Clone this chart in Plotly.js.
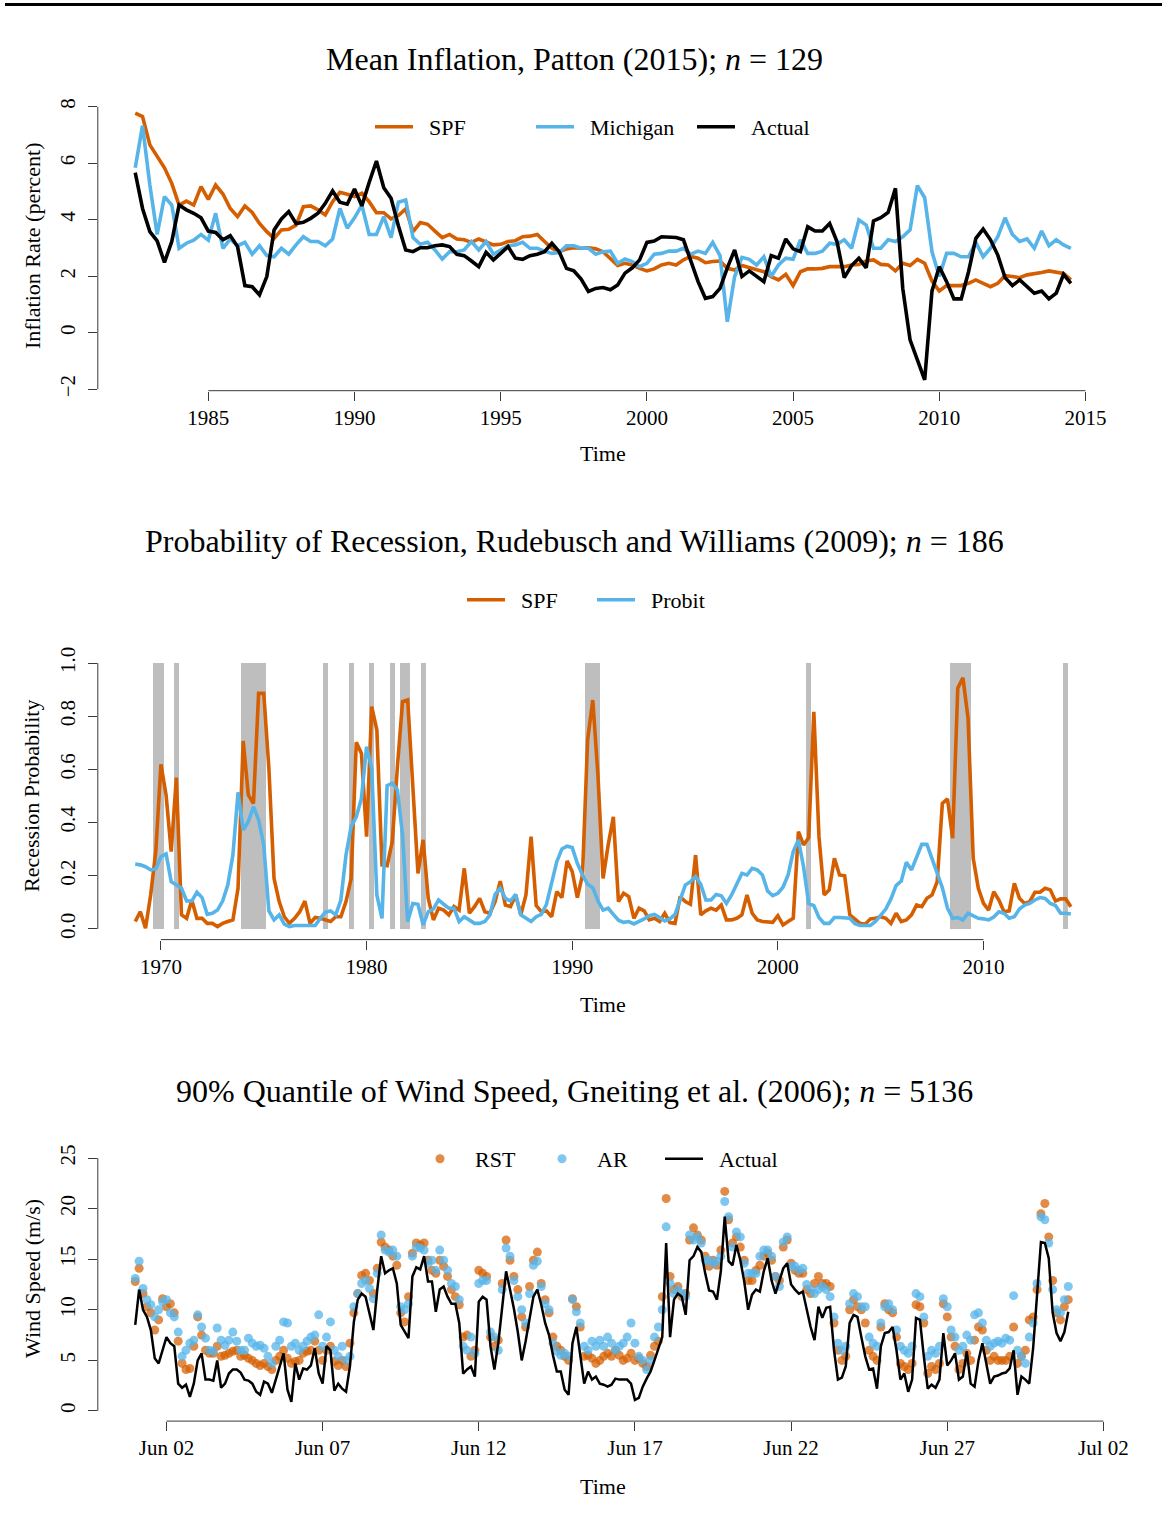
<!DOCTYPE html>
<html>
<head>
<meta charset="utf-8">
<script src="https://cdn.plot.ly/plotly-3.0.1.min.js"></script>
<style>
  html, body { margin: 0; padding: 0; background: #ffffff; }
  #chart { width: 1162px; height: 1531px; }
</style>
</head>
<body>
<div id="chart"></div>
<script>
// ---------------- Panel 1: Mean inflation (quarterly, 1982.5 - 2014.5) ----------------
const inflStart = 1982.5;
const inflSPF = [7.77,7.65,6.65,6.23,5.84,5.29,4.52,4.66,4.52,5.17,4.72,5.23,4.91,4.40,4.11,4.49,4.26,3.87,3.58,3.34,
  3.64,3.66,3.81,4.46,4.49,4.35,4.17,4.64,4.97,4.90,4.82,4.94,4.64,4.25,4.25,4.03,4.15,4.38,3.58,3.90,
  3.84,3.60,3.37,3.48,3.32,3.29,3.20,3.32,3.23,3.11,3.13,3.23,3.26,3.40,3.42,3.48,3.23,2.99,2.87,2.97,
  3.01,2.99,3.01,2.97,2.87,2.63,2.38,2.46,2.40,2.28,2.19,2.26,2.40,2.46,2.40,2.58,2.70,2.64,2.48,2.52,
  2.54,2.28,2.22,2.38,2.31,2.22,2.16,1.99,1.87,2.07,1.67,2.16,2.26,2.26,2.28,2.34,2.34,2.34,2.40,2.42,
  2.54,2.58,2.42,2.40,2.19,2.46,2.38,2.60,2.46,1.83,1.48,1.67,1.67,1.67,1.75,1.87,1.75,1.63,1.75,2.02,
  1.99,1.95,2.05,2.08,2.13,2.19,2.14,2.10,1.87];
const inflMichigan = [5.84,7.33,5.23,3.48,4.82,4.52,2.99,3.17,3.28,3.48,3.28,4.23,2.99,3.32,3.08,3.20,2.78,3.08,2.73,2.69,
  2.99,2.78,3.11,3.40,3.23,3.23,3.08,3.32,4.40,3.70,4.07,4.52,3.48,3.48,4.11,3.37,4.62,4.70,3.37,3.13,
  3.20,2.93,2.61,2.87,2.87,2.93,3.23,2.93,3.23,2.78,2.93,3.08,3.11,3.20,2.99,2.99,2.89,2.81,2.84,3.08,
  3.08,2.99,2.99,2.78,2.87,2.89,2.46,2.61,2.52,2.34,2.46,2.78,2.81,2.89,2.89,2.99,2.78,2.89,2.81,3.20,
  2.73,0.39,1.99,2.67,2.60,2.40,2.69,1.99,2.40,2.64,2.60,3.29,2.81,2.81,2.89,3.17,3.13,3.29,2.99,3.99,
  3.81,2.99,2.99,3.29,3.23,3.40,3.64,5.21,4.78,2.87,1.99,2.81,2.81,2.69,2.69,3.20,2.69,2.99,3.40,4.07,
  3.48,3.23,3.32,2.99,3.60,3.08,3.29,3.11,2.99];
const inflActual = [5.67,4.40,3.58,3.25,2.49,3.23,4.52,4.35,4.23,4.07,3.60,3.55,3.29,3.44,3.05,1.67,1.63,1.34,1.99,3.64,
  4.03,4.29,3.87,3.91,4.05,4.23,4.58,5.02,4.62,4.55,5.09,4.49,5.32,6.08,5.13,4.76,3.79,2.93,2.87,3.01,
  3.01,3.08,3.11,3.05,2.78,2.73,2.54,2.34,2.85,2.58,2.81,3.05,2.64,2.60,2.73,2.78,2.87,3.17,2.87,2.28,
  2.19,1.90,1.46,1.57,1.60,1.52,1.69,2.11,2.30,2.58,3.20,3.25,3.40,3.40,3.37,3.29,2.54,1.81,1.22,1.28,
  1.57,2.30,2.93,1.99,2.19,1.99,1.81,2.73,2.64,3.32,2.97,2.87,3.75,3.60,3.60,3.87,3.23,1.95,2.38,2.64,
  2.30,3.96,4.07,4.26,5.11,1.57,-0.25,-0.96,-1.67,1.48,2.34,1.81,1.20,1.20,2.16,3.34,3.67,3.29,2.75,1.95,
  1.67,1.87,1.63,1.40,1.48,1.20,1.40,2.07,1.75];
const inflXTicks = [1985, 1990, 1995, 2000, 2005, 2010, 2015];
const inflYTicks = [-2, 0, 2, 4, 6, 8];

// ---------------- Panel 2: Recession probability (quarterly, 1968.75 - 2014.25) ----------------
const recStart = 1968.75;
const recSPF = [0.028,0.065,0.003,0.128,0.291,0.619,0.504,0.291,0.569,0.053,0.040,0.109,0.040,0.040,0.021,0.021,0.009,0.021,0.028,0.034,
  0.153,0.707,0.504,0.472,0.886,0.886,0.604,0.190,0.103,0.046,0.021,0.040,0.065,0.105,0.021,0.043,0.040,0.034,0.028,0.046,
  0.046,0.103,0.190,0.702,0.660,0.347,0.836,0.748,0.241,0.238,0.328,0.610,0.855,0.861,0.554,0.209,0.335,0.115,0.034,0.078,
  0.071,0.053,0.084,0.071,0.228,0.059,0.084,0.115,0.065,0.059,0.103,0.180,0.090,0.084,0.128,0.053,0.128,0.347,0.088,0.065,
  0.068,0.046,0.140,0.118,0.256,0.216,0.118,0.203,0.711,0.861,0.580,0.190,0.316,0.422,0.103,0.134,0.122,0.040,0.078,0.068,
  0.034,0.040,0.028,0.059,0.024,0.021,0.122,0.103,0.093,0.278,0.053,0.068,0.078,0.071,0.090,0.034,0.034,0.040,0.053,0.128,
  0.059,0.034,0.028,0.025,0.025,0.050,0.015,0.028,0.040,0.366,0.316,0.343,0.817,0.347,0.128,0.147,0.266,0.203,0.200,0.053,
  0.038,0.021,0.018,0.038,0.040,0.046,0.040,0.021,0.059,0.028,0.034,0.053,0.090,0.084,0.115,0.128,0.178,0.472,0.489,0.341,
  0.905,0.945,0.792,0.266,0.153,0.096,0.071,0.140,0.109,0.065,0.068,0.172,0.115,0.096,0.103,0.138,0.138,0.153,0.147,0.105,
  0.113,0.113,0.084];
const recProbit = [0.244,0.241,0.234,0.222,0.226,0.272,0.282,0.178,0.165,0.153,0.105,0.105,0.138,0.118,0.055,0.059,0.071,0.105,0.165,0.278,
  0.514,0.372,0.404,0.460,0.410,0.316,0.068,0.034,0.053,0.018,0.009,0.013,0.013,0.013,0.013,0.013,0.040,0.063,0.068,0.053,
  0.109,0.278,0.385,0.422,0.491,0.685,0.604,0.128,0.040,0.539,0.548,0.523,0.353,0.028,0.096,0.093,0.015,0.065,0.075,0.109,
  0.093,0.078,0.078,0.028,0.046,0.034,0.021,0.021,0.028,0.053,0.130,0.153,0.115,0.105,0.130,0.053,0.040,0.028,0.046,0.055,
  0.093,0.172,0.253,0.301,0.311,0.306,0.247,0.203,0.168,0.155,0.106,0.071,0.078,0.055,0.033,0.025,0.028,0.019,0.028,0.038,
  0.050,0.055,0.043,0.030,0.038,0.055,0.109,0.165,0.178,0.197,0.168,0.109,0.109,0.130,0.125,0.096,0.128,0.168,0.209,0.203,
  0.228,0.222,0.203,0.143,0.125,0.134,0.157,0.203,0.291,0.335,0.234,0.096,0.088,0.043,0.021,0.021,0.043,0.043,0.040,0.040,
  0.020,0.013,0.013,0.013,0.028,0.050,0.075,0.113,0.163,0.180,0.251,0.222,0.274,0.318,0.318,0.263,0.216,0.155,0.078,0.040,
  0.043,0.034,0.059,0.050,0.040,0.038,0.034,0.045,0.065,0.059,0.040,0.046,0.075,0.090,0.096,0.109,0.118,0.115,0.096,0.088,
  0.059,0.059,0.056];
const recessionQuarters = [1969.75,1970.0,1970.75,1974.0,1974.25,1974.5,1974.75,1975.0,1978.0,1979.25,1980.25,1981.25,
  1981.75,1982.0,1982.75,1990.75,1991.0,1991.25,2001.5,2008.5,2008.75,2009.0,2009.25,2014.0];
const recXTicks = [1970, 1980, 1990, 2000, 2010];
const recYTicks = [0, 0.2, 0.4, 0.6, 0.8, 1.0];

// ---------------- Panel 3: Wind speed (3-hourly readings, June 2003) ----------------
const windStart = '2003-06-01T00:00:00Z';
const windStepHours = 3;
const windActual = [8.5,12.0,10.0,9.3,8.0,5.2,4.7,6.0,7.3,6.7,6.4,2.7,2.3,2.6,1.4,2.7,5.0,5.7,3.1,3.1,
  3.0,5.0,2.3,2.7,3.7,4.1,4.1,3.8,3.1,3.0,2.7,1.9,1.6,2.9,2.7,1.8,3.1,4.2,5.7,2.1,
  0.9,4.7,3.1,4.2,4.1,4.5,6.2,3.7,2.7,6.4,6.0,2.0,2.7,2.2,1.9,4.4,8.8,11.0,11.6,11.3,
  9.5,8.0,12.0,15.3,13.6,13.9,14.1,12.6,8.5,7.8,7.2,13.3,14.2,14.0,15.3,12.8,12.8,9.8,12.0,12.3,
  11.3,10.6,10.6,8.7,3.7,4.1,4.4,3.4,10.8,11.3,11.0,6.4,4.1,6.7,10.0,13.8,12.0,10.1,7.8,5.0,
  6.9,9.2,11.3,12.0,10.5,8.7,7.5,5.5,3.9,3.9,2.1,1.6,6.7,8.3,5.7,2.7,3.9,3.1,3.4,2.7,
  2.6,2.4,2.6,3.2,3.1,3.1,3.1,2.7,1.1,1.3,2.4,3.2,3.9,5.0,6.2,7.3,16.6,7.3,11.0,11.6,
  11.3,9.5,14.9,15.3,16.2,15.7,13.6,11.9,11.8,11.0,13.8,19.2,14.8,14.4,16.4,14.9,12.8,10.0,11.5,12.0,
  11.8,13.8,15.1,12.9,11.6,12.9,14.1,14.6,12.5,12.0,11.6,11.8,10.0,8.3,7.0,10.3,9.2,10.2,10.3,6.0,
  3.1,3.3,4.4,8.7,9.5,9.3,7.3,5.4,4.1,4.2,2.2,6.4,7.7,7.8,8.3,6.0,3.1,3.7,1.9,3.1,
  9.2,9.0,5.4,2.2,2.6,2.3,3.1,7.7,4.5,5.0,5.7,3.1,3.4,5.9,2.7,2.4,5.0,6.7,4.7,2.7,
  3.4,3.5,3.7,3.8,4.2,6.0,1.6,3.4,3.1,2.7,6.2,11.6,16.7,16.6,15.1,9.7,7.7,6.9,7.8,9.8];
const windRST = [12.8,14.1,11.6,10.3,9.7,8.0,9.0,11.1,10.3,10.6,9.7,6.9,4.7,4.1,4.2,6.4,9.3,7.5,6.0,5.7,
  5.7,6.4,5.4,5.5,5.7,5.9,6.0,5.4,5.5,5.2,5.0,4.7,4.5,4.7,4.4,4.1,5.0,5.4,6.0,5.2,
  4.7,4.9,5.0,5.7,5.9,6.0,6.9,6.0,5.0,6.0,6.4,4.9,4.5,5.0,4.4,6.7,9.7,11.6,13.4,13.6,
  12.9,11.6,14.1,16.7,16.2,15.9,15.3,14.4,9.7,8.8,11.3,15.6,16.6,16.4,16.6,14.9,13.9,13.6,14.9,14.3,
  13.3,12.0,11.3,10.5,7.3,7.5,5.4,6.0,13.9,13.6,13.3,7.3,6.4,7.0,12.6,16.9,14.9,13.3,12.0,9.3,
  8.3,12.3,14.9,15.7,12.6,11.0,9.7,7.3,6.4,6.0,5.4,5.0,11.1,10.3,8.3,5.4,5.5,5.2,4.7,5.0,
  5.4,5.7,5.4,6.0,5.5,5.0,5.2,5.7,5.0,5.2,4.7,4.4,5.5,6.4,6.9,11.3,21.0,13.3,12.0,12.3,
  11.3,11.6,16.9,18.1,17.4,16.9,15.3,14.3,14.9,14.4,15.9,21.7,18.9,16.6,17.2,16.2,14.9,12.9,12.9,13.9,
  14.4,15.3,15.6,14.9,13.3,12.9,16.2,16.9,14.6,13.9,13.6,13.6,12.0,11.6,12.6,13.3,12.6,12.6,12.3,8.7,
  6.0,5.0,5.4,10.0,11.0,10.3,10.0,8.7,6.0,5.4,5.0,8.3,10.6,10.0,9.7,7.3,4.7,4.4,4.1,4.7,
  10.5,10.3,8.7,3.7,4.4,4.1,4.7,10.6,9.3,7.3,6.4,4.1,4.7,5.7,5.0,7.0,8.3,8.0,6.0,5.0,
  5.4,5.0,5.0,5.0,5.4,8.3,4.7,5.4,6.0,9.0,9.3,12.0,19.5,20.5,17.2,12.9,9.7,9.0,10.3,11.0];
const windAR = [13.1,14.8,12.1,11.0,10.5,9.3,10.0,10.8,11.0,9.7,9.3,7.8,5.4,6.0,6.7,7.0,9.5,8.3,7.2,6.0,
  5.9,8.2,7.0,6.5,7.0,7.8,6.9,6.0,6.0,7.2,6.7,6.4,6.5,6.2,5.4,4.7,6.4,7.0,8.8,8.7,
  6.4,6.7,6.0,6.4,6.9,7.3,7.5,9.5,6.4,7.3,8.8,6.0,5.4,6.4,5.0,5.4,10.3,11.6,12.6,12.9,
  12.1,11.1,13.6,17.4,15.9,15.7,15.9,15.3,10.3,10.0,10.6,15.3,16.2,16.1,15.9,14.6,14.9,13.9,15.9,14.9,
  13.9,12.6,12.3,11.0,6.4,6.0,7.3,5.7,12.6,12.9,12.9,7.8,7.3,6.0,12.0,16.1,15.3,12.9,11.3,10.0,
  8.7,11.6,14.4,14.8,12.3,10.6,10.0,6.7,5.9,5.5,5.7,5.4,11.0,9.8,8.7,6.4,6.0,6.9,6.4,7.0,
  6.4,7.3,6.7,6.0,6.4,6.7,7.3,8.7,6.7,5.4,5.0,4.1,5.0,7.3,8.3,10.0,18.2,12.6,11.6,12.0,
  11.6,11.3,17.4,16.9,17.2,16.6,14.9,14.9,14.6,14.8,15.3,20.7,19.2,16.2,17.7,17.2,14.6,13.6,13.6,13.6,
  15.3,15.9,15.9,15.3,13.3,12.3,16.7,17.2,14.3,14.3,13.9,14.1,12.5,12.0,11.6,12.0,12.3,12.0,11.3,9.3,
  6.7,6.0,6.4,10.6,11.6,11.3,10.3,10.3,7.3,6.7,6.4,8.7,10.3,10.6,10.0,8.0,6.4,6.0,5.7,6.4,
  11.6,11.3,9.3,5.4,6.0,5.7,6.4,11.1,10.3,8.0,7.3,6.0,6.4,7.5,7.0,9.5,9.7,8.7,7.0,6.4,
  6.7,6.9,6.7,7.2,7.0,11.4,6.0,5.4,4.7,7.3,8.7,12.6,19.2,18.9,16.6,12.0,10.0,9.7,11.0,12.3];
const windYTicks = [0, 5, 10, 15, 20, 25];
const windXTick0 = '2003-06-02';
const windXTickLast = '2003-07-02';

// ---------------- helpers ----------------
const W = 1162, H = 1531;
const px = x => x / W;
const py = y => 1 - y / H;
const quarterly = (start, n) => Array.from({length: n}, (_, i) => start + 0.25 * i);
function hourlyDates(startIso, n, step) {
  const t0 = Date.parse(startIso);
  const pad = v => String(v).padStart(2, '0');
  return Array.from({length: n}, (_, i) => {
    const d = new Date(t0 + i * step * 3600000);
    return d.getUTCFullYear() + '-' + pad(d.getUTCMonth() + 1) + '-' + pad(d.getUTCDate()) + ' ' +
      pad(d.getUTCHours()) + ':00:00';
  });
}
const SP = '\u2002'; // spacing between legend key and label

const ORANGE = '#D55E00', BLUE = '#56B4E9', GREY = '#BEBEBE', AXIS = '#3a3a3a';
const FONT = 'Liberation Serif, Times New Roman, serif';

const xInfl = quarterly(inflStart, inflSPF.length);
const xRec = quarterly(recStart, recSPF.length);
const xWind = hourlyDates(windStart, windActual.length, windStepHours);

const traces = [
  {x: xInfl, y: inflSPF, type: 'scatter', mode: 'lines', name: SP + 'SPF', line: {color: ORANGE, width: 3.6}, xaxis: 'x', yaxis: 'y', legend: 'legend'},
  {x: xInfl, y: inflMichigan, type: 'scatter', mode: 'lines', name: SP + 'Michigan', line: {color: BLUE, width: 3.6}, xaxis: 'x', yaxis: 'y', legend: 'legend'},
  {x: xInfl, y: inflActual, type: 'scatter', mode: 'lines', name: SP + 'Actual', line: {color: '#000000', width: 3.6}, xaxis: 'x', yaxis: 'y', legend: 'legend'},

  {x: recessionQuarters, y: recessionQuarters.map(() => 1), type: 'bar', width: 0.25, marker: {color: GREY, line: {width: 0}},
   showlegend: false, xaxis: 'x2', yaxis: 'y2', hoverinfo: 'skip'},
  {x: xRec, y: recSPF, type: 'scatter', mode: 'lines', name: SP + 'SPF', line: {color: ORANGE, width: 3.6}, xaxis: 'x2', yaxis: 'y2', legend: 'legend2'},
  {x: xRec, y: recProbit, type: 'scatter', mode: 'lines', name: SP + 'Probit', line: {color: BLUE, width: 3.6}, xaxis: 'x2', yaxis: 'y2', legend: 'legend2'},

  {x: xWind, y: windRST, type: 'scatter', mode: 'markers', name: SP + 'RST', marker: {color: 'rgba(213,94,0,0.72)', size: 9}, xaxis: 'x3', yaxis: 'y3', legend: 'legend3'},
  {x: xWind, y: windAR, type: 'scatter', mode: 'markers', name: SP + 'AR', marker: {color: 'rgba(86,180,233,0.75)', size: 9}, xaxis: 'x3', yaxis: 'y3', legend: 'legend3'},
  {x: xWind, y: windActual, type: 'scatter', mode: 'lines', name: SP + 'Actual', line: {color: '#000000', width: 2.5}, xaxis: 'x3', yaxis: 'y3', legend: 'legend3'}
];

const axisCommon = {
  showgrid: false, zeroline: false, showline: false, ticks: 'outside', ticklen: 9, tickwidth: 1,
  tickcolor: AXIS, tickfont: {family: FONT, size: 21, color: '#000'}, fixedrange: true
};
const xAxisExtra = {ticklabelstandoff: -1};
const yAxisExtra = {tickangle: -90, ticklabelstandoff: 4};
const xDom = [px(97.8), px(1108.3)];

const legendCommon = {
  orientation: 'h', xanchor: 'left', yanchor: 'middle', bgcolor: 'rgba(0,0,0,0)',
  font: {family: FONT, size: 22, color: '#000'}, itemwidth: 38, entrywidthmode: 'pixels', traceorder: 'normal'
};

const layout = {
  width: W, height: H, margin: {l: 0, r: 0, t: 0, b: 0},
  paper_bgcolor: '#ffffff', plot_bgcolor: '#ffffff',
  font: {family: FONT, size: 22, color: '#000'},
  showlegend: true, bargap: 0,
  xaxis: Object.assign({}, axisCommon, xAxisExtra, {domain: xDom, range: [1981.22, 2015.78], anchor: 'y', tickvals: inflXTicks}),
  yaxis: Object.assign({}, axisCommon, yAxisExtra, {domain: [py(390.7), py(102.5)], range: [-2.05, 8.15], anchor: 'x', tickvals: inflYTicks}),
  xaxis2: Object.assign({}, axisCommon, xAxisExtra, {domain: xDom, range: [1966.93, 2016.07], anchor: 'y2', tickvals: recXTicks}),
  yaxis2: Object.assign({}, axisCommon, yAxisExtra, {domain: [py(939.6), py(652.4)], range: [-0.04, 1.04], anchor: 'x2', tickvals: recYTicks, tickformat: '.1f'}),
  xaxis3: Object.assign({}, axisCommon, xAxisExtra, {type: 'date', domain: xDom, range: ['2003-05-30 19:14:24', '2003-07-02 03:45:36'], anchor: 'y3',
           tick0: windXTick0, dtick: 5 * 86400000, tickformat: '%b %d'}),
  yaxis3: Object.assign({}, axisCommon, yAxisExtra, {domain: [py(1421.1), py(1147.9)], range: [-1, 26], anchor: 'x3', tickvals: windYTicks}),
  legend: Object.assign({}, legendCommon, {x: px(370), y: py(127), entrywidth: 108}),
  legend2: Object.assign({}, legendCommon, {x: px(462), y: py(600), entrywidth: 77}),
  legend3: Object.assign({}, legendCommon, {x: px(416), y: py(1159), entrywidth: 69}),
  shapes: [
    {type: 'line', xref: 'paper', yref: 'paper', x0: px(5), x1: 1, y0: py(4.5), y1: py(4.5), line: {color: '#000', width: 3}},
    {type: 'line', xref: 'x', yref: 'paper', x0: inflXTicks[0], x1: inflXTicks[inflXTicks.length - 1], y0: py(390.7), y1: py(390.7), line: {color: AXIS, width: 1}},
    {type: 'line', xref: 'paper', yref: 'y', x0: px(97.8), x1: px(97.8), y0: inflYTicks[0], y1: inflYTicks[inflYTicks.length - 1], line: {color: AXIS, width: 1}},
    {type: 'line', xref: 'x2', yref: 'paper', x0: recXTicks[0], x1: recXTicks[recXTicks.length - 1], y0: py(939.6), y1: py(939.6), line: {color: AXIS, width: 1}},
    {type: 'line', xref: 'paper', yref: 'y2', x0: px(97.8), x1: px(97.8), y0: recYTicks[0], y1: recYTicks[recYTicks.length - 1], line: {color: AXIS, width: 1}},
    {type: 'line', xref: 'x3', yref: 'paper', x0: windXTick0, x1: windXTickLast, y0: py(1421.1), y1: py(1421.1), line: {color: AXIS, width: 1}},
    {type: 'line', xref: 'paper', yref: 'y3', x0: px(97.8), x1: px(97.8), y0: windYTicks[0], y1: windYTicks[windYTicks.length - 1], line: {color: AXIS, width: 1}}
  ],
  annotations: [
    {text: 'Mean Inflation, Patton (2015); <i>n</i> = 129', x: px(574.5), y: py(59), xref: 'paper', yref: 'paper', showarrow: false, xanchor: 'center', yanchor: 'middle', font: {family: FONT, size: 32}},
    {text: 'Probability of Recession, Rudebusch and Williams (2009); <i>n</i> = 186', x: px(574), y: py(541), xref: 'paper', yref: 'paper', showarrow: false, xanchor: 'center', yanchor: 'middle', font: {family: FONT, size: 32}},
    {text: '90% Quantile of Wind Speed, Gneiting et al. (2006); <i>n</i> = 5136', x: px(574), y: py(1091), xref: 'paper', yref: 'paper', showarrow: false, xanchor: 'center', yanchor: 'middle', font: {family: FONT, size: 32}},
    {text: 'Time', x: px(603), y: py(454), xref: 'paper', yref: 'paper', showarrow: false, xanchor: 'center', yanchor: 'middle', font: {family: FONT, size: 22}},
    {text: 'Time', x: px(603), y: py(1004), xref: 'paper', yref: 'paper', showarrow: false, xanchor: 'center', yanchor: 'middle', font: {family: FONT, size: 22}},
    {text: 'Time', x: px(603), y: py(1486), xref: 'paper', yref: 'paper', showarrow: false, xanchor: 'center', yanchor: 'middle', font: {family: FONT, size: 22}},
    {text: 'Inflation Rate (percent)', x: px(32), y: py(246), xref: 'paper', yref: 'paper', showarrow: false, textangle: -90, xanchor: 'center', yanchor: 'middle', font: {family: FONT, size: 22}},
    {text: 'Recession Probability', x: px(32), y: py(796), xref: 'paper', yref: 'paper', showarrow: false, textangle: -90, xanchor: 'center', yanchor: 'middle', font: {family: FONT, size: 22}},
    {text: 'Wind Speed (m/s)', x: px(32), y: py(1279), xref: 'paper', yref: 'paper', showarrow: false, textangle: -90, xanchor: 'center', yanchor: 'middle', font: {family: FONT, size: 22}}
  ]
};

Plotly.newPlot('chart', traces, layout, {displayModeBar: false, staticPlot: true});
</script>
</body>
</html>
